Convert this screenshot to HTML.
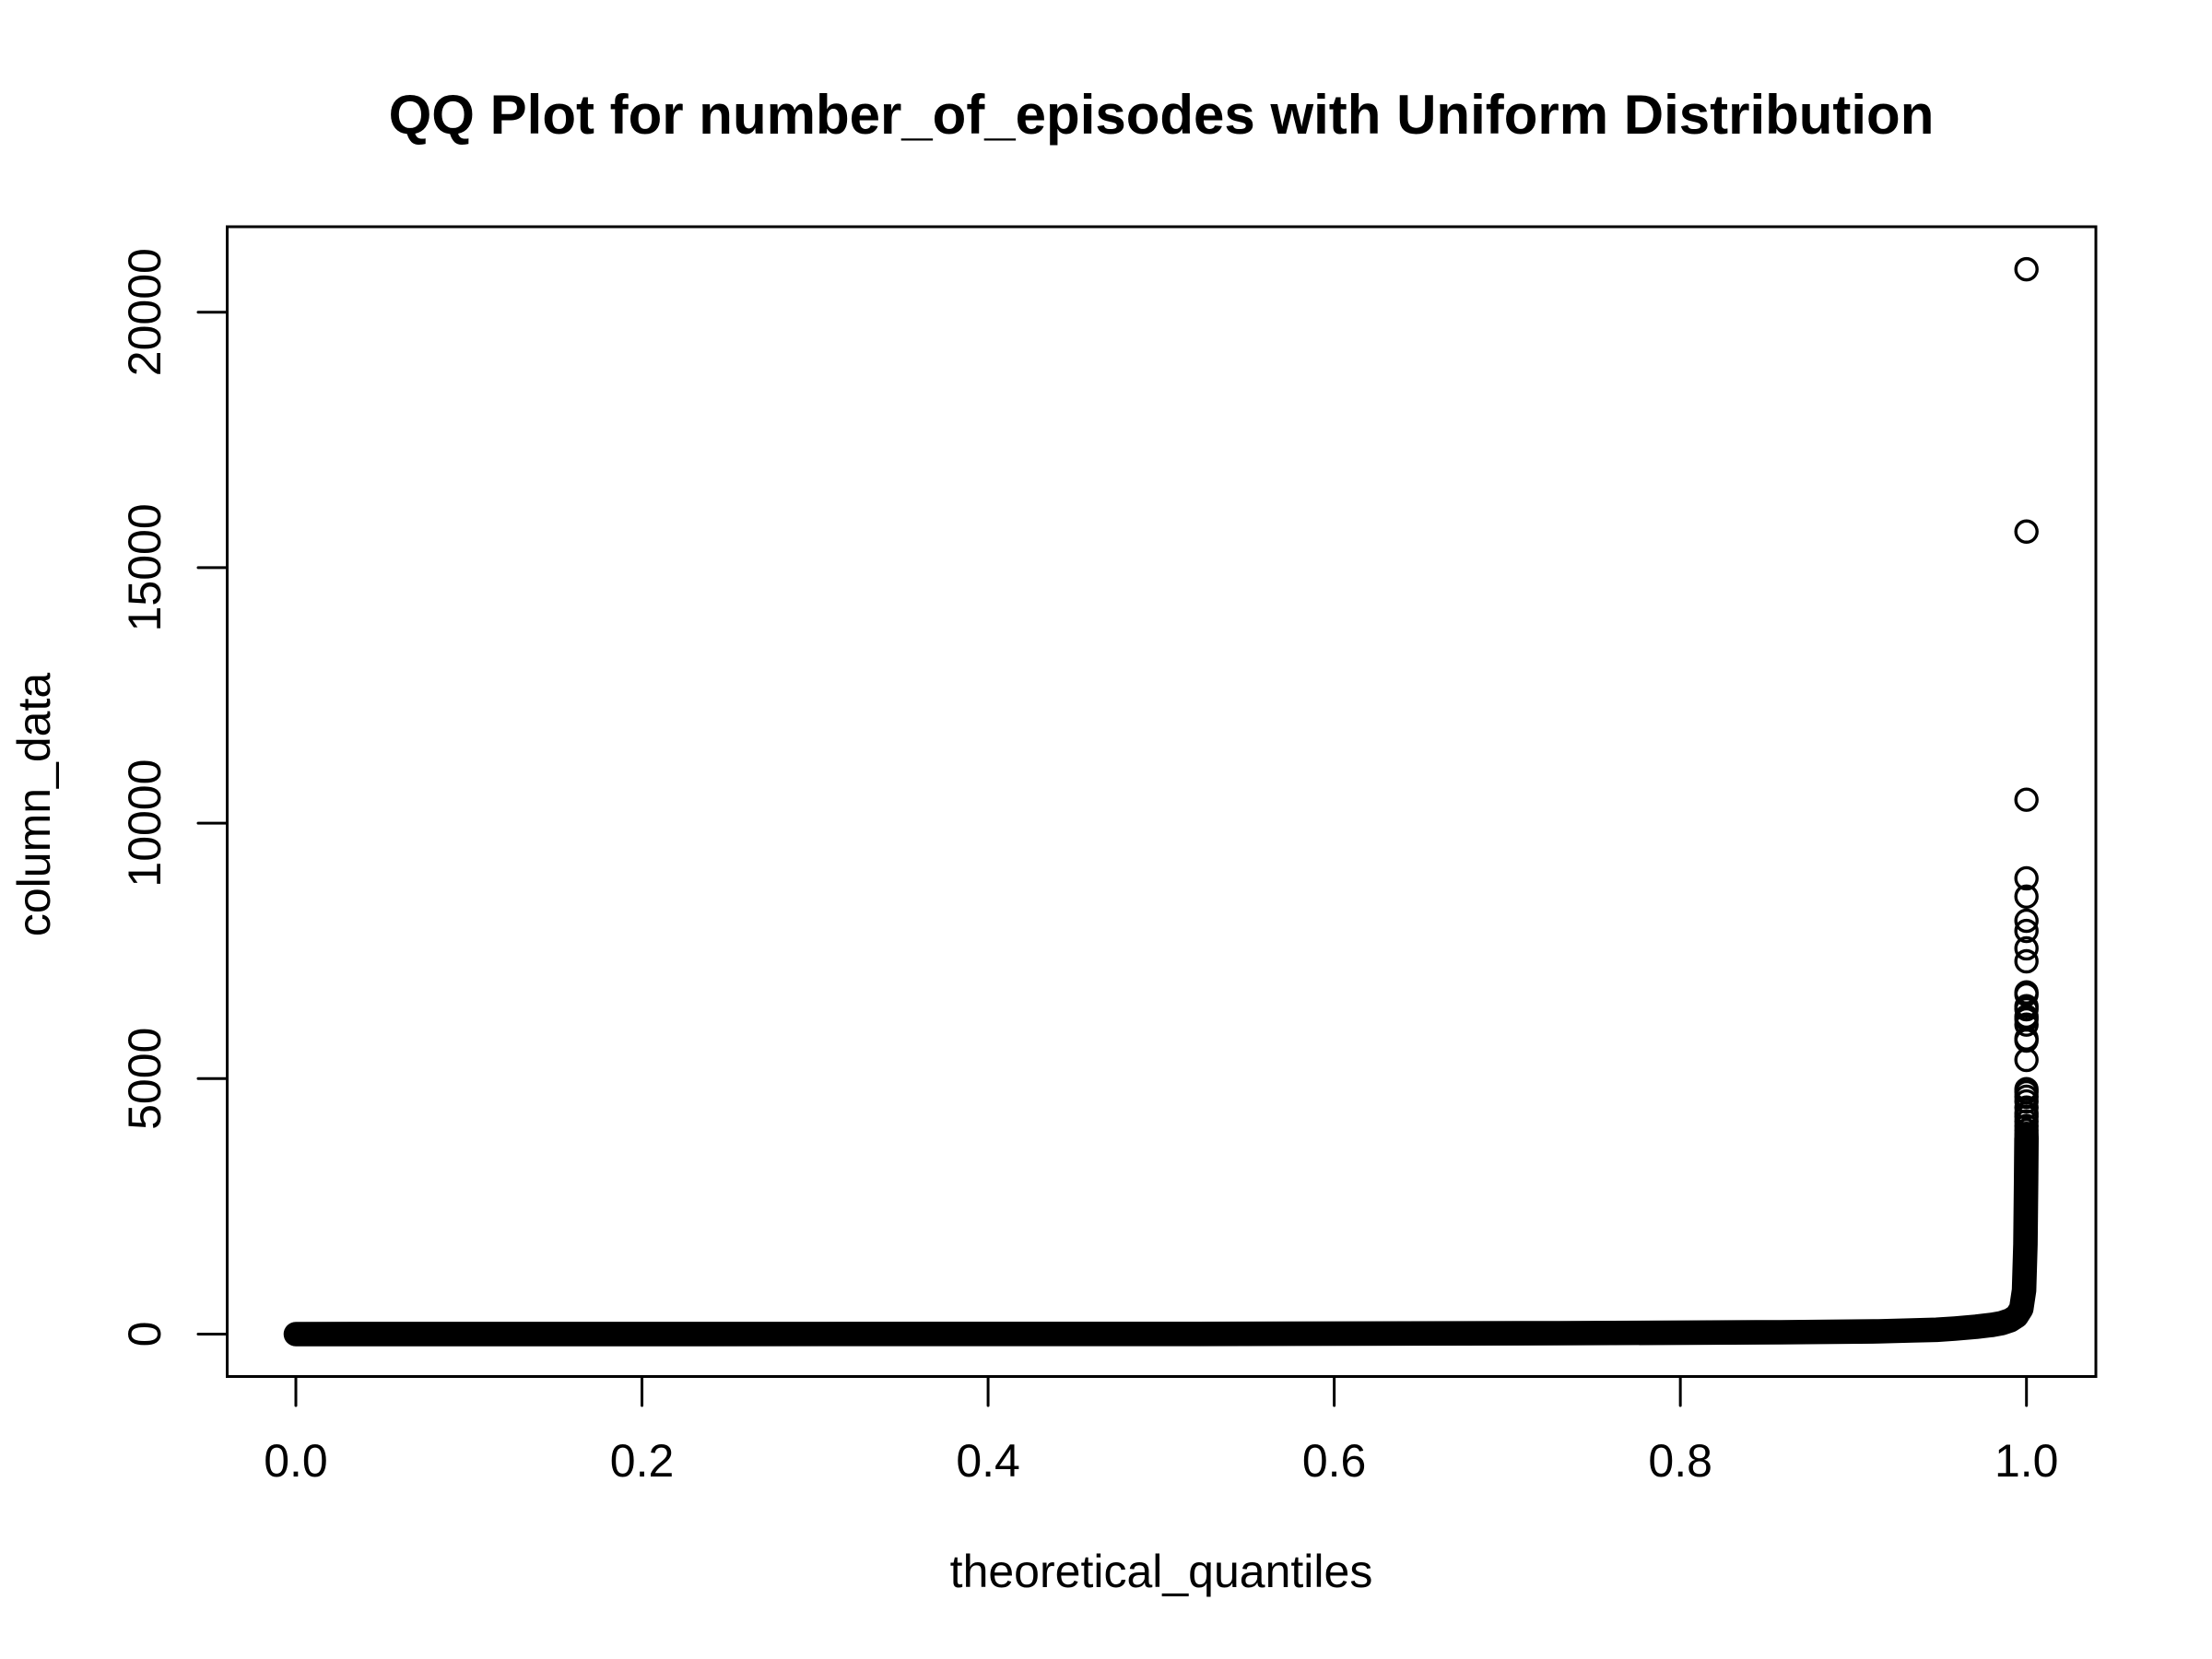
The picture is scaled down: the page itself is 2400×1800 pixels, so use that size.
<!DOCTYPE html>
<html lang="en">
<head>
<meta charset="utf-8">
<title>QQ Plot for number_of_episodes with Uniform Distribution</title>
<style>
html,body{margin:0;padding:0;background:#fff;}
svg{display:block;}
text{font-family:"Liberation Sans",Arial,sans-serif;fill:#000;}
</style>
</head>
<body>
<svg id="chart" xmlns="http://www.w3.org/2000/svg" width="2400" height="1800" viewBox="0 0 2400 1800">
  <rect x="0" y="0" width="2400" height="1800" fill="#fff"/>
  <text x="1260" y="145" text-anchor="middle" font-size="60" font-weight="700">QQ Plot for number_of_episodes with Uniform Distribution</text>
  <text x="1260" y="1722" text-anchor="middle" font-size="50">theoretical_quantiles</text>
  <text transform="translate(54 873) rotate(-90)" text-anchor="middle" font-size="50">column_data</text>
  <g id="bandLayer"></g>
  <g id="pointLayer"></g>
  <rect x="246.5" y="246" width="2027.5" height="1247.5" fill="none" stroke="#000" stroke-width="3"/>
  <g id="xAxisLayer"></g>
  <g id="yAxisLayer"></g>
</svg>
<script>
var xTicks = [0, 0.2, 0.4, 0.6, 0.8, 1];
var xTickLabels = ["0.0", "0.2", "0.4", "0.6", "0.8", "1.0"];
var yTicks = [0, 5000, 10000, 15000, 20000];
var yTickLabels = ["0", "5000", "10000", "15000", "20000"];

// Sorted column: theoretical quantile and value, read along the dense black band
var bandQuantiles = [0, 0.521, 0.7296, 0.858, 0.9144, 0.934, 0.948, 0.9586, 0.9709, 0.98, 0.9858, 0.9906, 0.9943, 0.997, 0.9986, 0.9994, 0.9998, 1];
var bandValues = [0, 4, 18, 36, 54, 72, 85, 108, 144, 180, 216, 270, 352, 496, 857, 1759, 3021, 3833];

// Largest individual observations, drawn as open circles at quantile ~ 1
var outlierValues = [20840, 15706, 10458, 8920, 8563, 8090, 7891, 7549, 7296, 6688, 6647, 6417, 6358, 6214, 6160, 6057, 5786, 5745, 5366, 4794, 4735, 4645, 4554, 4434, 4320, 4254, 4163, 4073, 3990, 3920, 3860];

var SVG_NS = "http://www.w3.org/2000/svg";
function xScale(q) { return 321 + q * 1877.7; }
function yScale(v) { return 1447.5 - v * 0.05544; }

function drawBand() {
  var layer = document.getElementById("bandLayer");
  var d = "";
  for (var i = 0; i < bandQuantiles.length; i++) {
    d += (i ? "L" : "M") + xScale(bandQuantiles[i]).toFixed(2) + " " + yScale(bandValues[i]).toFixed(2);
  }
  var path = document.createElementNS(SVG_NS, "path");
  
  
  path.setAttribute("d", d);
  path.setAttribute("fill", "none");
  path.setAttribute("stroke", "#000");
  path.setAttribute("stroke-width", "26.6");
  path.setAttribute("stroke-linecap", "round");
  path.setAttribute("stroke-linejoin", "round");
  layer.appendChild(path);
}

function drawPoints() {
  var layer = document.getElementById("pointLayer");
  for (var i = 0; i < outlierValues.length; i++) {
    var c = document.createElementNS(SVG_NS, "circle");
    
    
    c.setAttribute("cx", xScale(1));
    c.setAttribute("cy", yScale(outlierValues[i]).toFixed(2));
    c.setAttribute("r", "11.5");
    c.setAttribute("fill", "none");
    c.setAttribute("stroke", "#000");
    c.setAttribute("stroke-width", "3.4");
    layer.appendChild(c);
  }
}

function drawXAxis() {
  var layer = document.getElementById("xAxisLayer");
  for (var i = 0; i < xTicks.length; i++) {
    var x = xScale(xTicks[i]);
    var tick = document.createElementNS(SVG_NS, "line");
    
    
    tick.setAttribute("x1", x);
    tick.setAttribute("x2", x);
    tick.setAttribute("y1", 1493.5);
    tick.setAttribute("y2", 1525);
    tick.setAttribute("stroke", "#000");
    tick.setAttribute("stroke-width", "3");
    tick.setAttribute("stroke-linecap", "round");
    layer.appendChild(tick);
    var label = document.createElementNS(SVG_NS, "text");
    
    
    label.setAttribute("x", x);
    label.setAttribute("y", 1602);
    label.setAttribute("text-anchor", "middle");
    label.setAttribute("font-size", "50");
    label.textContent = xTickLabels[i];
    layer.appendChild(label);
  }
}

function drawYAxis() {
  var layer = document.getElementById("yAxisLayer");
  for (var i = 0; i < yTicks.length; i++) {
    var y = yScale(yTicks[i]);
    var tick = document.createElementNS(SVG_NS, "line");
    
    
    tick.setAttribute("x1", 215);
    tick.setAttribute("x2", 246.5);
    tick.setAttribute("y1", y);
    tick.setAttribute("y2", y);
    tick.setAttribute("stroke", "#000");
    tick.setAttribute("stroke-width", "3");
    tick.setAttribute("stroke-linecap", "round");
    layer.appendChild(tick);
    var label = document.createElementNS(SVG_NS, "text");
    
    
    label.setAttribute("transform", "translate(174 " + y + ") rotate(-90)");
    label.setAttribute("text-anchor", "middle");
    label.setAttribute("font-size", "50");
    label.textContent = yTickLabels[i];
    layer.appendChild(label);
  }
}

drawBand();
drawPoints();
drawXAxis();
drawYAxis();
</script>
</body>
</html>
